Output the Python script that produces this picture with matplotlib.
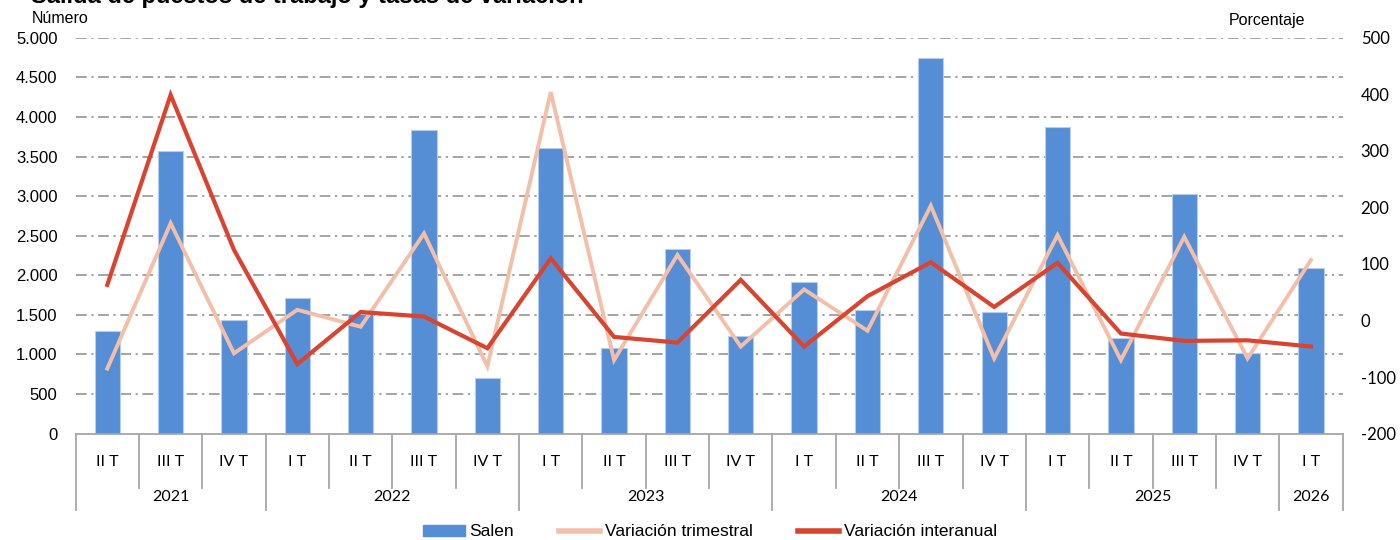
import matplotlib.pyplot as plt
from matplotlib.patches import Patch
from matplotlib.lines import Line2D

# Datos
trimestres = ["II T", "III T", "IV T",
              "I T", "II T", "III T", "IV T",
              "I T", "II T", "III T", "IV T",
              "I T", "II T", "III T", "IV T",
              "I T", "II T", "III T", "IV T",
              "I T"]
anios = ["2021", "2022", "2023", "2024", "2025", "2026"]
trimestres_por_anio = [3, 4, 4, 4, 4, 1]

salen = [1300, 3571, 1439, 1709, 1507, 3833, 706, 3614, 1077, 2333,
         1229, 1915, 1561, 4747, 1532, 3879, 1211, 3024, 1014, 2096]
var_trimestral = [-85, 172, -58, 19, -11, 154, -81, 404, -70, 116,
                  -46, 55, -18, 203, -67, 151, -70, 148, -67, 107]
var_interanual = [63, 399, 125, -77, 15, 7, -49, 110, -29, -39,
                  72, -46, 43, 103, 24, 102, -23, -36, -35, -46]

AZUL = "#558ed5"
SALMON = "#f4bfa8"
ROJO = "#d94430"
GRIS = "#8c8c8c"


def miles(v):
    return f"{int(v):,}".replace(",", ".")


def dibujar():
    fig = plt.figure(figsize=(14, 5.4), dpi=100)
    ax = fig.add_axes([0.054, 0.197, 0.905, 0.733])
    ax2 = ax.twinx()

    x = list(range(len(salen)))
    ax.bar(x, salen, width=0.4, color=AZUL, edgecolor="#b7cdee", linewidth=0.8, zorder=2)
    ax2.plot(x, var_trimestral, color=SALMON, linewidth=2.8, solid_joinstyle="miter")
    ax2.plot(x, var_interanual, color=ROJO, linewidth=3.0, solid_joinstyle="miter")

    ax.set_xlim(-0.5, len(salen) - 0.5)
    ax.set_ylim(0, 5000)
    ax2.set_ylim(-200, 500)
    ax.set_yticks(range(0, 5001, 500))
    ax.set_yticklabels([miles(v) for v in range(0, 5001, 500)],
                       fontsize=12, family="Liberation Sans")
    ax2.set_yticks(range(-200, 501, 100))
    ax2.set_yticklabels([str(v) for v in range(-200, 501, 100)],
                        fontsize=12, family="Lato")
    ax.tick_params(axis="y", length=0, pad=13)
    ax2.tick_params(axis="y", length=0, pad=13)
    ax.set_xticks([])

    for v in range(500, 5001, 500):
        ax.axhline(v, color=GRIS, linewidth=1.1, linestyle=(0, (7, 3, 1.5, 3)), zorder=1)

    for a in (ax, ax2):
        for lado in ("top", "left", "right"):
            a.spines[lado].set_visible(False)
        a.spines["bottom"].set_color("#a6a6a6")
        a.spines["bottom"].set_linewidth(1.3)
    ax2.spines["bottom"].set_visible(False)

    # tabla de categorías bajo el eje
    kw = dict(color="#a6a6a6", linewidth=1.3, clip_on=False, transform=ax.get_xaxis_transform())
    limites_anio = [-0.5]
    for n in trimestres_por_anio:
        limites_anio.append(limites_anio[-1] + n)
    for i in range(len(salen) + 1):
        b = i - 0.5
        fondo = -0.194 if b in limites_anio else -0.137
        ax.plot([b, b], [0, fondo], **kw)
    for i, t in enumerate(trimestres):
        ax.text(i, -0.072, t, ha="center", va="center", fontsize=11.5,
                family="Lato", transform=ax.get_xaxis_transform())
    for j, anio in enumerate(anios):
        centro = (limites_anio[j] + limites_anio[j + 1]) / 2
        ax.text(centro, -0.16, anio, ha="center", va="center", fontsize=11.5,
                family="Lato", transform=ax.get_xaxis_transform())

    fig.text(0.022, 0.994, "Salida de puestos de trabajo y tasas de variación",
             fontsize=17, fontweight="bold", family="Liberation Sans", va="baseline")
    fig.text(0.023, 0.966, "Número", fontsize=11.5, family="Liberation Sans", va="center")
    fig.text(0.932, 0.962, "Porcentaje", fontsize=11.5, family="Liberation Sans",
             va="center", ha="right")

    manejadores = [Patch(facecolor=AZUL, edgecolor=AZUL),
                   Line2D([], [], color=SALMON, linewidth=4),
                   Line2D([], [], color=ROJO, linewidth=4)]
    fig.legend(manejadores, ["Salen", "Variación trimestral", "Variación interanual"],
               loc="center", bbox_to_anchor=(0.507, 0.015), ncol=3, frameon=False,
               prop={"family": "Liberation Sans", "size": 12.5},
               handlelength=2.4, handleheight=0.6, handletextpad=0.25, columnspacing=2.6)

    fig.savefig("out.png", dpi=100)


if __name__ == "__main__":
    dibujar()
